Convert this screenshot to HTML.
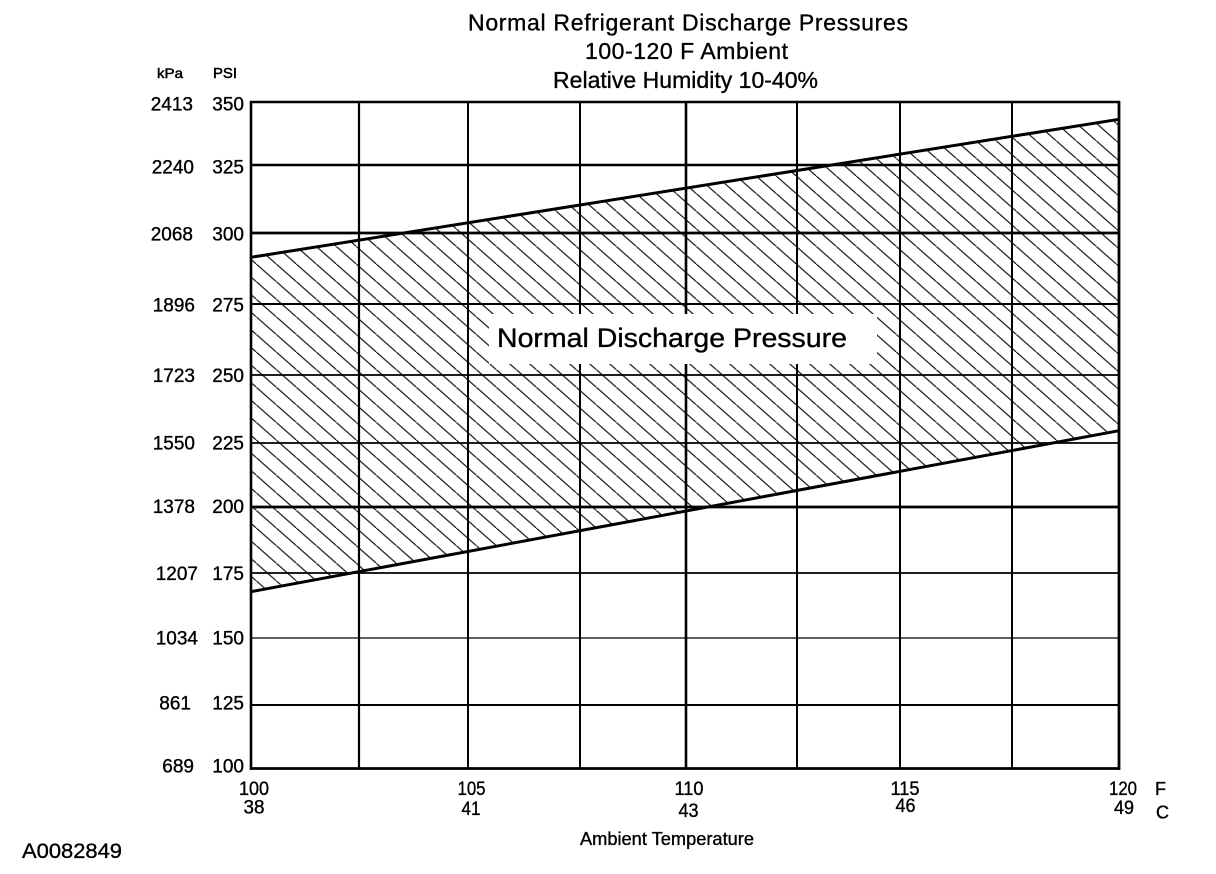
<!DOCTYPE html>
<html>
<head>
<meta charset="utf-8">
<style>
  html,body{margin:0;padding:0;background:#fff;}
  svg{display:block;}
  text{font-family:"Liberation Sans","DejaVu Sans",sans-serif;fill:#000;stroke:#000;stroke-width:0.35;}
</style>
</head>
<body>
<svg width="1216" height="874" viewBox="0 0 1216 874" xmlns="http://www.w3.org/2000/svg">
  <defs>
    <pattern id="hatch" patternUnits="userSpaceOnUse" x="16.25" y="0" width="20" height="17.6">
      <line x1="-2" y1="-1.76" x2="22" y2="19.36" stroke="#000" stroke-width="1.1"/>
    </pattern>
  </defs>
  <rect width="1216" height="874" fill="#fff"/>

  <!-- Title -->
  <text x="468" y="30.5" font-size="23" textLength="440" lengthAdjust="spacing">Normal  Refrigerant  Discharge  Pressures</text>
  <text x="585" y="59" font-size="23" textLength="203" lengthAdjust="spacing">100-120 F Ambient</text>
  <text x="553" y="88" font-size="23" textLength="265" lengthAdjust="spacing">Relative Humidity 10-40%</text>

  <!-- Axis unit headers -->
  <text x="157" y="78" font-size="14" textLength="26" lengthAdjust="spacingAndGlyphs" style="stroke-width:0.5">kPa</text>
  <text x="213" y="78" font-size="14.5" textLength="24" lengthAdjust="spacingAndGlyphs" style="stroke-width:0.5">PSI</text>

  <!-- Hatched band -->
  <polygon points="251,257.3 1119,119.3 1119,430.7 251,591.7" fill="url(#hatch)"/>

  <!-- Horizontal grid lines -->
  <g stroke="#000">
    <line x1="250" y1="102" x2="1120" y2="102" stroke-width="2.5"/>
    <line x1="250" y1="165" x2="1120" y2="165" stroke-width="2.6"/>
    <line x1="250" y1="233" x2="1120" y2="233" stroke-width="2.8"/>
    <line x1="250" y1="304" x2="1120" y2="304" stroke-width="2"/>
    <line x1="250" y1="375" x2="1120" y2="375" stroke-width="1.8"/>
    <line x1="250" y1="443" x2="1120" y2="443" stroke-width="1.8"/>
    <line x1="250" y1="507" x2="1120" y2="507" stroke-width="2.8"/>
    <line x1="250" y1="573" x2="1120" y2="573" stroke-width="1.8"/>
    <line x1="250" y1="638" x2="1120" y2="638" stroke-width="1.2"/>
    <line x1="250" y1="705" x2="1120" y2="705" stroke-width="2"/>
    <line x1="250" y1="768.5" x2="1120" y2="768.5" stroke-width="2.8"/>
  </g>
  <!-- Vertical grid lines -->
  <g stroke="#000">
    <line x1="251" y1="101" x2="251" y2="770" stroke-width="2.6"/>
    <line x1="359" y1="101" x2="359" y2="768" stroke-width="2.2"/>
    <line x1="468" y1="101" x2="468" y2="768" stroke-width="2"/>
    <line x1="580" y1="101" x2="580" y2="768" stroke-width="2"/>
    <line x1="686" y1="101" x2="686" y2="768" stroke-width="2.6"/>
    <line x1="797" y1="101" x2="797" y2="768" stroke-width="2"/>
    <line x1="900" y1="101" x2="900" y2="768" stroke-width="2"/>
    <line x1="1012" y1="101" x2="1012" y2="768" stroke-width="2"/>
    <line x1="1119" y1="101" x2="1119" y2="770" stroke-width="2.8"/>
  </g>

  <!-- Boundary lines -->
  <line x1="251" y1="257.3" x2="1119" y2="119.3" stroke="#000" stroke-width="3"/>
  <line x1="251" y1="591.7" x2="1119" y2="430.7" stroke="#000" stroke-width="3"/>

  <!-- Label box -->
  <rect x="489" y="314" width="388" height="50" fill="#fff"/>
  <text x="497" y="347" font-size="27" textLength="350" lengthAdjust="spacingAndGlyphs">Normal Discharge Pressure</text>

  <!-- kPa labels -->
  <g font-size="19" text-anchor="end">
    <text x="193" y="110.7">2413</text>
    <text x="194" y="173.3">2240</text>
    <text x="193" y="240.7">2068</text>
    <text x="195" y="311.3">1896</text>
    <text x="195" y="381.8">1723</text>
    <text x="195" y="449.4">1550</text>
    <text x="195" y="512.9">1378</text>
    <text x="198" y="580">1207</text>
    <text x="198" y="644.3">1034</text>
    <text x="191" y="709.5">861</text>
    <text x="194" y="772.3">689</text>
  </g>
  <!-- PSI labels -->
  <g font-size="19" text-anchor="end">
    <text x="244" y="110.7">350</text>
    <text x="244" y="173.3">325</text>
    <text x="244" y="240.7">300</text>
    <text x="244" y="311.3">275</text>
    <text x="244" y="381.8">250</text>
    <text x="244" y="449.4">225</text>
    <text x="244" y="512.9">200</text>
    <text x="244" y="580">175</text>
    <text x="244" y="644.3">150</text>
    <text x="244" y="709.5">125</text>
    <text x="244" y="772.3">100</text>
  </g>

  <!-- X axis labels -->
  <g font-size="19" text-anchor="middle">
    <text x="254" y="795" textLength="30" lengthAdjust="spacingAndGlyphs">100</text>
    <text x="471.5" y="795" textLength="28" lengthAdjust="spacingAndGlyphs">105</text>
    <text x="689" y="795" textLength="29" lengthAdjust="spacingAndGlyphs">110</text>
    <text x="905" y="795" textLength="29" lengthAdjust="spacingAndGlyphs">115</text>
    <text x="1123" y="795" textLength="28" lengthAdjust="spacingAndGlyphs">120</text>
    <text x="254" y="813.5" textLength="21" lengthAdjust="spacingAndGlyphs">38</text>
    <text x="471" y="815" textLength="19" lengthAdjust="spacingAndGlyphs">41</text>
    <text x="688.5" y="817" textLength="20" lengthAdjust="spacingAndGlyphs">43</text>
    <text x="905.5" y="812" textLength="20" lengthAdjust="spacingAndGlyphs">46</text>
    <text x="1124" y="814" textLength="20" lengthAdjust="spacingAndGlyphs">49</text>
  </g>
  <text x="1155" y="795" font-size="18">F</text>
  <text x="1156" y="818.5" font-size="18">C</text>

  <text x="580" y="845" font-size="18" textLength="174" lengthAdjust="spacingAndGlyphs">Ambient Temperature</text>
  <text x="22" y="858" font-size="21" textLength="100" lengthAdjust="spacingAndGlyphs">A0082849</text>
</svg>
</body>
</html>
